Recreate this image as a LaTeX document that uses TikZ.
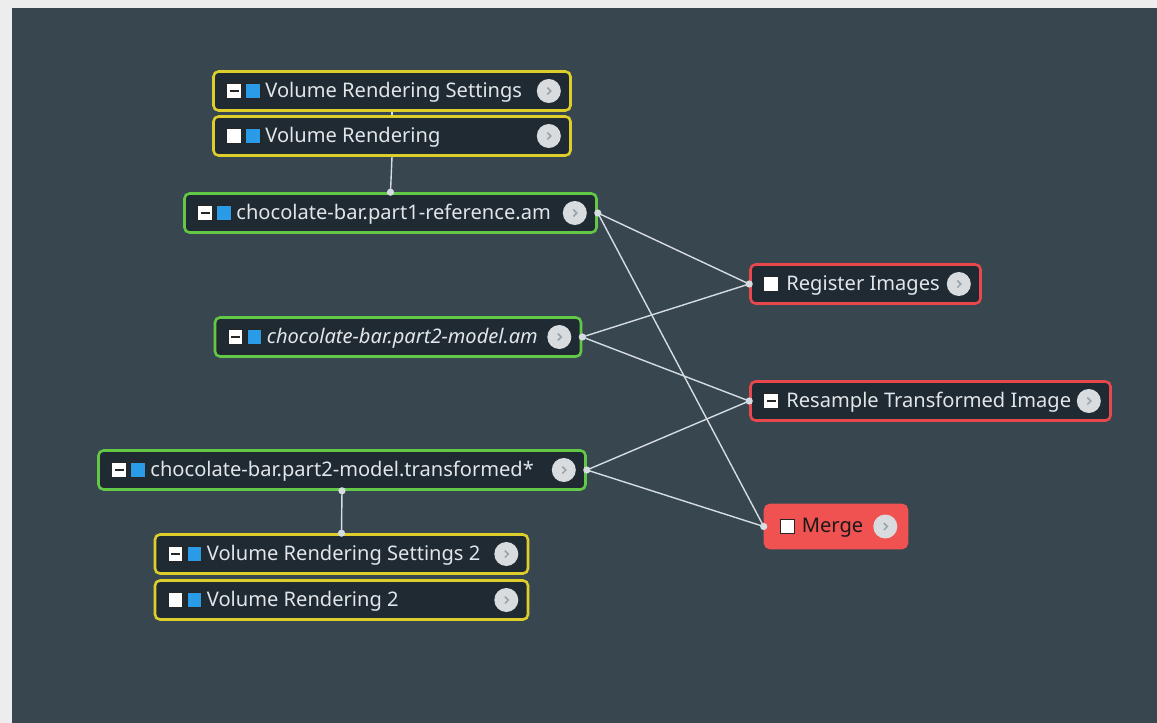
\documentclass[tikz,border=0pt]{standalone}
\usepackage{fontspec}
\setmainfont{Noto Sans}
\definecolor{pagebg}{HTML}{EDEDED}
\definecolor{panelbg}{HTML}{37464F}
\definecolor{cardbg}{HTML}{1F2A33}
\definecolor{cyellow}{HTML}{DDCE2C}
\definecolor{cgreen}{HTML}{62C846}
\definecolor{cred}{HTML}{E8484B}
\definecolor{mergered}{HTML}{F05252}
\definecolor{swatchblue}{HTML}{2A9BE6}
\definecolor{wirecol}{HTML}{D6DDE1}
\definecolor{labelcol}{HTML}{E2E6E8}
\definecolor{gobg}{HTML}{D9DCDE}
\definecolor{gochev}{HTML}{98A2A8}
\begin{document}
\begin{tikzpicture}[x=1pt,y=-1pt,font=\fontsize{20.1}{24}\selectfont,
  card/.style={draw,line width=2.6pt,fill=cardbg,rounded corners=5pt,
    minimum height=39,inner sep=0},
  caption/.style={anchor=west,inner sep=0,text=labelcol,yshift=-1.5},
  toggle/.style={draw=black!85,line width=1pt,fill=white,minimum size=14.5,inner sep=0},
  swatch/.style={draw=black!85,line width=1pt,fill=swatchblue,minimum size=14.5,inner sep=0},
  gobutton/.style={circle,fill=gobg,minimum size=24,inner sep=0},
  wire/.style={draw=wirecol,line width=1.4pt},
  socket/.style={fill=wirecol}
]
  \useasboundingbox (0,0) rectangle (1157,723);
  \fill[pagebg] (0,0) rectangle (1157,723);
  \fill[panelbg] (12,8) rectangle (1157,723);

  % modules: name/x/y/width/frame colour/text offset/title
  \foreach \n/\x/\y/\w/\c/\o/\t in {
      vrs/392/91/357/cyellow/53/Volume Rendering Settings,
      vr/392/136/357/cyellow/53/Volume Rendering,
      ref/390.5/213/412/cgreen/53/chocolate-bar.part1-reference.am,
      model/398/337/366/cgreen/53/\textit{chocolate-bar.part2-model.am},
      trans/342/470/487/cgreen/53/chocolate-bar.part2-model.transformed*,
      vrs2/341.5/554/373/cyellow/53/Volume Rendering Settings 2,
      vr2/341.5/600/373/cyellow/53/Volume Rendering 2,
      reg/865.5/284/230/cred/37/Register Images,
      res/930.5/401/360/cred/37/Resample Transformed Image}{
    \node[card,draw=\c,minimum width=\w] (\n) at (\x,\y) {};
    \node[caption] (\n-t) at ([xshift=\o]\n.west) {\t};
  }
  \node[card,draw=mergered,fill=mergered,minimum width=142,minimum height=43]
    (merge) at (836,526.5) {};
  \node[caption,text=black!90] (merge-t) at ([xshift=38]merge.west) {Merge};

  % toggles, colour swatches and the round buttons
  \foreach \n in {vrs,vr,ref,model,trans,vrs2,vr2,reg,res}
    \node[toggle] (\n-tg) at ([xshift=22]\n.west) {};
  \node[toggle] (merge-tg) at ([xshift=24]merge.west) {};
  \foreach \n in {vrs,ref,model,trans,vrs2,res}
    \draw[black!85,line width=2pt] ([xshift=-4.5]\n-tg.center) -- ([xshift=4.5]\n-tg.center);
  \foreach \n in {vrs,vr,ref,model,trans,vrs2,vr2}
    \node[swatch] (\n-sw) at ([xshift=41]\n.west) {};
  \foreach \n in {vrs,vr,ref,model,trans,vrs2,vr2,reg,res,merge} {
    \node[gobutton] (\n-go) at ([xshift=-23]\n.east) {};
    \draw[gochev,line width=1.5pt] ([xshift=-1.5,yshift=3.5]\n-go.center)
      -- ([xshift=2]\n-go.center) -- ([xshift=-1.5,yshift=-3.5]\n-go.center);
  }

  % connections
  \draw[wire] (vrs.south) -- (vr.north);
  \draw[wire] (vr.south) -- (ref.north);
  \draw[wire] (trans.south) -- (vrs2.north);
  \draw[wire] (ref.east) -- (reg.west);
  \draw[wire] (ref.east) -- (merge.west);
  \draw[wire] (model.east) -- (reg.west);
  \draw[wire] (model.east) -- (res.west);
  \draw[wire] (trans.east) -- (res.west);
  \draw[wire] (trans.east) -- (merge.west);
  \foreach \p in {ref.north,trans.south,vrs2.north,ref.east,model.east,trans.east,
      reg.west,res.west,merge.west}
    \fill[socket] (\p) circle (3.6);
\end{tikzpicture}
\end{document}
